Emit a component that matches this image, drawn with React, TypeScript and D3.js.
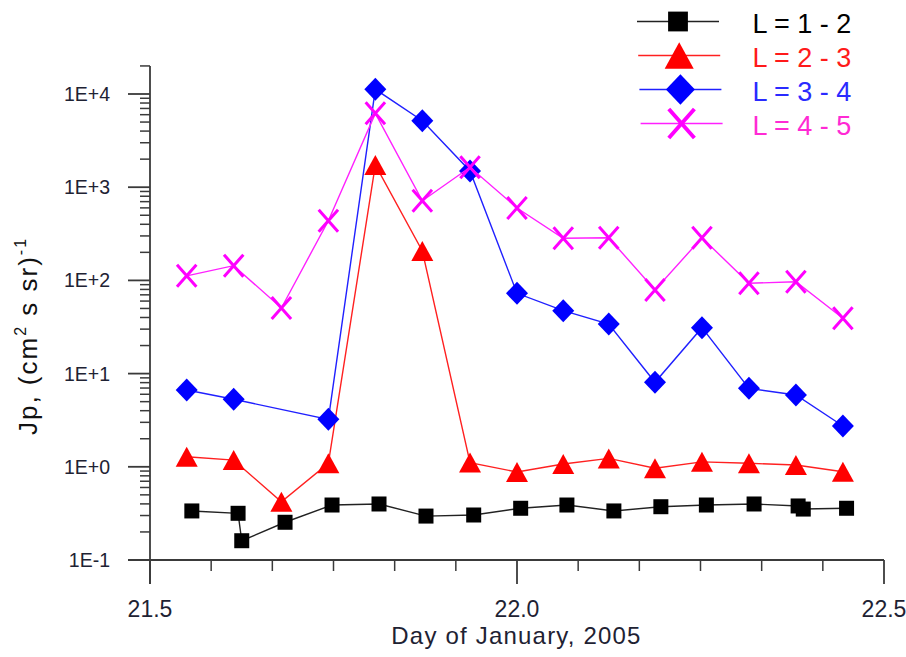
import React from "react";
import * as d3 from "d3";

// ---- data ----
const blackDays = [21.557, 21.620, 21.625, 21.684, 21.748, 21.812, 21.876, 21.941, 22.005, 22.068, 22.132, 22.196, 22.258, 22.323, 22.383, 22.390, 22.449];
const blackVals = [0.336, 0.317, 0.161, 0.254, 0.389, 0.399, 0.296, 0.304, 0.359, 0.389, 0.336, 0.373, 0.389, 0.399, 0.380, 0.352, 0.359];

const redDays = [21.550, 21.614, 21.679, 21.743, 21.807, 21.871, 21.936, 22.000, 22.063, 22.125, 22.188, 22.252, 22.316, 22.380, 22.444];
const redVals = [1.28, 1.18, 0.422, 1.09, 1730, 207, 1.11, 0.879, 1.07, 1.23, 0.964, 1.13, 1.09, 1.045, 0.885];

const blueDays = [21.550, 21.614, 21.743, 21.807, 21.871, 21.936, 22.000, 22.063, 22.125, 22.188, 22.252, 22.316, 22.380, 22.444];
const blueVals = [6.67, 5.30, 3.23, 11230, 5170, 1492, 72.7, 47.3, 34.0, 8.07, 31.1, 6.95, 5.89, 2.74];

const magentaDays = [21.550, 21.614, 21.679, 21.743, 21.807, 21.871, 21.936, 22.000, 22.063, 22.125, 22.188, 22.252, 22.316, 22.380, 22.444];
const magentaVals = [112, 144, 50.6, 437, 6200, 716, 1635, 598, 283, 287, 78.9, 287, 93.1, 96.8, 39.2];

const legendLabels = ["L = 1 - 2", "L = 2 - 3", "L = 3 - 4", "L = 4 - 5"];
const yTickValues = [0.1, 1, 10, 100, 1000, 10000];
const yTickLabels = ["1E-1", "1E+0", "1E+1", "1E+2", "1E+3", "1E+4"];
const xMajorTicks = [21.5, 22.0, 22.5];
const xMajorLabels = ["21.5", "22.0", "22.5"];

const W = 906;
const H = 657;

type Shape = "square" | "triangle" | "diamond" | "cross";

function Marker({ shape, x, y, color, s }: { shape: Shape; x: number; y: number; color: string; s: number }) {
  if (shape === "square") {
    const h = 7.5 * s;
    return <rect x={x - h} y={y - h} width={2 * h} height={2 * h} fill={color} />;
  }
  if (shape === "triangle") {
    const hw = 11 * s, hh = 10 * s;
    return <path d={`M${x},${y - hh}L${x + hw},${y + hh}L${x - hw},${y + hh}Z`} fill={color} />;
  }
  if (shape === "diamond") {
    const hw = 11 * s, hh = 11.5 * s;
    return <path d={`M${x},${y - hh}L${x + hw},${y}L${x},${y + hh}L${x - hw},${y}Z`} fill={color} />;
  }
  const hw = 9.7 * s, hh = 11 * s;
  return (
    <path
      d={`M${x - hw},${y - hh}L${x + hw},${y + hh}M${x + hw},${y - hh}L${x - hw},${y + hh}`}
      stroke={color}
      strokeWidth={3 * s}
      fill="none"
    />
  );
}

export default function App() {
  const x = d3.scaleLinear().domain([21.5, 22.5]).range([150, 884]);
  const y = d3.scaleLog().domain([0.1, 20000]).range([560, 560 - 93.2 * Math.log10(200000)]);

  const series = [
    { days: blackDays, vals: blackVals, color: "#000000", line: "#222222", shape: "square" as Shape, text: "#000000" },
    { days: redDays, vals: redVals, color: "#ff0000", line: "#ff2020", shape: "triangle" as Shape, text: "#ff1a1a" },
    { days: blueDays, vals: blueVals, color: "#0000ff", line: "#2020ff", shape: "diamond" as Shape, text: "#2a2aff" },
    { days: magentaDays, vals: magentaVals, color: "#ff00ff", line: "#ff20ff", shape: "cross" as Shape, text: "#ff2ad4" },
  ];

  const line = d3
    .line<[number, number]>()
    .x((d) => x(d[0]))
    .y((d) => y(d[1]));

  // minor ticks
  const xMinor = d3.range(1, 12).map((i) => 21.5 + i / 12).filter((v) => Math.abs(v - 22) > 1e-6);
  const yMinor: number[] = [];
  for (let e = -1; e <= 4; e++) {
    for (let m = 2; m <= 9; m++) {
      const v = m * Math.pow(10, e);
      if (v <= 20000) yMinor.push(v);
    }
  }

  const axisColor = "#3a3a3a";
  const tickTextColor = "#1e2233";
  const x0 = x(21.5);
  const y0 = y(0.1);

  return (
    <svg width={W} height={H} style={{ position: "absolute", left: 0, top: 0, background: "#fff" }}>
      <rect x={0} y={0} width={W} height={H} fill="#fff" />
      {/* axes */}
      <line x1={x0} y1={y(20000)} x2={x0} y2={y0 + 24} stroke={axisColor} strokeWidth={1.8} />
      <line x1={x0 - 22} y1={y0} x2={x(22.5)} y2={y0} stroke={axisColor} strokeWidth={1.8} />
      {/* y ticks */}
      {yTickValues.map((v, i) => (
        <g key={"yt" + i}>
          <line x1={x0 - 22} x2={x0} y1={y(v)} y2={y(v)} stroke={axisColor} strokeWidth={1.8} />
          <text
            x={110}
            y={y(v) + 7}
            textAnchor="end"
            fontFamily="Liberation Sans, Arial, sans-serif"
            fontSize={19.5}
            fill={tickTextColor}
          >
            {yTickLabels[i]}
          </text>
        </g>
      ))}
      {yMinor.map((v, i) => (
        <line key={"ym" + i} x1={x0 - 10} x2={x0} y1={y(v)} y2={y(v)} stroke={axisColor} strokeWidth={1.5} />
      ))}
      {/* x ticks */}
      {xMajorTicks.map((v, i) => (
        <g key={"xt" + i}>
          <line x1={x(v)} x2={x(v)} y1={y0} y2={y0 + 24} stroke={axisColor} strokeWidth={1.8} />
          <text
            x={x(v)}
            y={616.5}
            textAnchor="middle"
            fontFamily="Liberation Sans Narrow, Liberation Sans, Arial, sans-serif"
            fontSize={23}
            fill={tickTextColor}
          >
            {xMajorLabels[i]}
          </text>
        </g>
      ))}
      {xMinor.map((v, i) => (
        <line key={"xm" + i} x1={x(v)} x2={x(v)} y1={y0} y2={y0 + 11} stroke={axisColor} strokeWidth={1.5} />
      ))}
      {/* axis titles */}
      <text
        x={516.5}
        y={644}
        textAnchor="middle"
        fontFamily="Liberation Sans, Arial, sans-serif"
        fontSize={24}
        letterSpacing={1.2}
        fill={tickTextColor}
      >
        Day of January, 2005
      </text>
      <text
        transform="translate(37,336) rotate(-90)"
        textAnchor="middle"
        fontFamily="Liberation Sans, Arial, sans-serif"
        fontSize={26}
        letterSpacing={2}
        fill="#111"
      >
        Jp, (cm
        <tspan fontSize={16} dy={-11}>2</tspan>
        <tspan dy={11}> s sr)</tspan>
        <tspan fontSize={16} dy={-11}>-1</tspan>
      </text>
      {/* series */}
      {series.map((s, si) => {
        const pts: [number, number][] = s.days.map((d, i) => [d, s.vals[i]]);
        return (
          <g key={"s" + si}>
            <path d={line(pts) || ""} fill="none" stroke={s.line} strokeWidth={1.4} />
            {pts.map((p, i) => (
              <Marker key={i} shape={s.shape} x={x(p[0])} y={y(p[1])} color={s.color} s={1} />
            ))}
          </g>
        );
      })}
      {/* legend */}
      {series.map((s, i) => {
        const ry = 21.5 + 34 * i;
        return (
          <g key={"lg" + i}>
            <line x1={637 + 1.2 * i} x2={719 + 1.2 * i} y1={ry} y2={ry} stroke={s.line} strokeWidth={1.6} />
            <Marker shape={s.shape} x={678 + 1.2 * i} y={ry} color={s.color} s={1.32} />
            <text
              x={752.5}
              y={ry + 11.7}
              fontFamily="Liberation Sans, Arial, sans-serif"
              fontSize={27}
              fill={s.text}
            >
              {legendLabels[i]}
            </text>
          </g>
        );
      })}
    </svg>
  );
}
